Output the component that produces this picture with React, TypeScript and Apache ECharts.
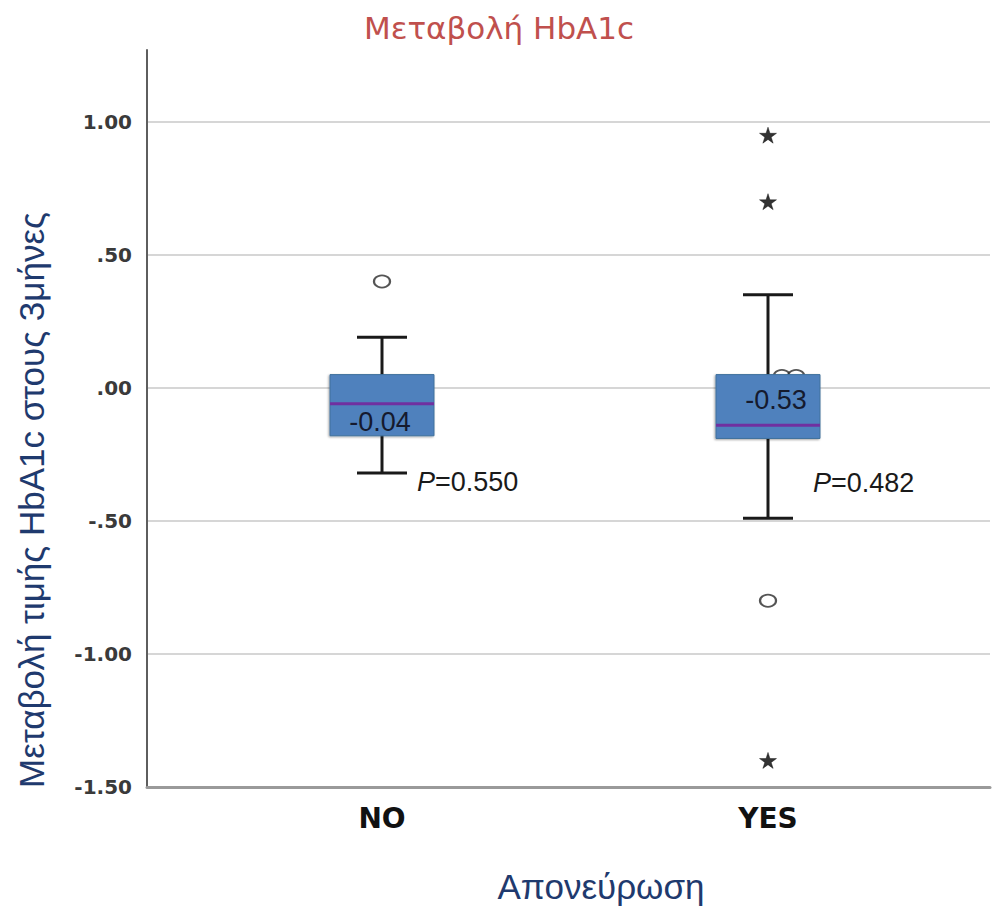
import React, { useEffect, useRef } from 'react';
import * as echarts from 'echarts';

// Groups on the x axis
const groups = ['NO', 'YES'];
// Box statistics per group: [lower whisker, Q1, median, Q3, upper whisker]
const boxStats = [
  [-0.32, -0.18, -0.06, 0.05, 0.19],
  [-0.49, -0.19, -0.14, 0.05, 0.35],
];
// Outliers as [group position, value]
const circleOutliers = [
  [0, 0.4],
  [1, -0.8],
  [1.036, 0.045],
  [1.073, 0.045],
];
const starOutliers = [
  [1, 0.95],
  [1, 0.7],
  [1, -1.4],
];
// Horizontal reference lines
const gridValues = [1.0, 0.5, 0, -0.5, -1.0];
// Annotations
const boxLabels = ['-0.04', '-0.53'];
const pValues = ['0.550', '0.482'];

const Y_MIN = -1.5;
const Y_MAX = 1.27;

const STAR =
  'path://M50,0 L61,35 L98,35 L68,57 L79,91 L50,70 L21,91 L32,57 L2,35 L39,35 Z';

function fmtTick(v: number): string {
  if (Math.abs(v * 2 - Math.round(v * 2)) > 1e-6) return '';
  return v.toFixed(2).replace(/^(-?)0\./, '$1.');
}

export default function App() {
  const ref = useRef<HTMLDivElement>(null);

  useEffect(() => {
    if (!ref.current) return;
    const chart = echarts.init(ref.current, undefined, { renderer: 'svg' });

    const boxData = boxStats.map((s, i) => [i, ...s]);

    const option: any = {
      animation: false,
      backgroundColor: '#ffffff',
      title: {
        text: 'Μεταβολή HbA1c',
        left: 'center',
        top: 7,
        textStyle: {
          color: '#c0504d',
          fontSize: 31,
          fontWeight: 'normal',
          fontFamily: 'DejaVu Sans',
        },
      },
      grid: [
        { left: 147, right: 8, top: 50, bottom: 128 },
        { left: 189, right: 37, top: 50, bottom: 128 },
      ],
      xAxis: [
        {
          gridIndex: 0,
          type: 'value',
          min: 0,
          max: 1,
          axisLine: { show: true, onZero: false, lineStyle: { color: '#9a9a9a', width: 3 } },
          axisTick: { show: false },
          axisLabel: { show: false },
          splitLine: { show: false },
        },
        {
          gridIndex: 1,
          type: 'category',
          data: groups,
          axisLine: { show: false },
          axisTick: { show: false },
          axisLabel: {
            margin: 17,
            color: '#111111',
            fontSize: 28,
            fontWeight: 'bold',
            fontFamily: 'DejaVu Sans',
          },
          name: 'Απονεύρωση',
          nameLocation: 'middle',
          nameGap: 82,
          nameTextStyle: {
            color: '#1f3a6e',
            fontSize: 35,
            fontFamily: 'Liberation Sans',
            padding: [0, 0, 0, 52],
          },
        },
        {
          gridIndex: 1,
          type: 'value',
          min: -0.5,
          max: 1.5,
          show: false,
        },
      ],
      yAxis: [
        {
          gridIndex: 0,
          type: 'value',
          min: Y_MIN,
          max: Y_MAX,
          interval: 0.5,
          axisLine: { show: true, onZero: false, lineStyle: { color: '#5e5e5e', width: 2 } },
          axisTick: { show: false },
          splitLine: { show: false },
          axisLabel: {
            showMaxLabel: false,
            margin: 15,
            color: '#3a3a3a',
            fontSize: 20,
            fontWeight: 'bold',
            fontFamily: 'DejaVu Sans',
            formatter: fmtTick,
          },
          name: 'Μεταβολή τιμής HbA1c στους 3μήνες',
          nameLocation: 'middle',
          nameRotate: 90,
          nameGap: 98,
          nameTextStyle: {
            color: '#1f3a6e',
            fontSize: 35,
            fontFamily: 'Liberation Sans',
            padding: [0, 163, 0, 0],
          },
        },
        {
          gridIndex: 1,
          type: 'value',
          min: Y_MIN,
          max: Y_MAX,
          show: false,
        },
      ],
      series: [
        {
          name: 'grid',
          type: 'line',
          xAxisIndex: 0,
          yAxisIndex: 0,
          data: [],
          z: 0,
          silent: true,
          markLine: {
            silent: true,
            z: 0,
            symbol: 'none',
            label: { show: false },
            lineStyle: { color: '#d6d6d6', width: 2, type: 'solid' },
            data: gridValues.map((v) => ({ yAxis: v })),
          },
        },
        {
          name: 'outliers',
          type: 'scatter',
          xAxisIndex: 2,
          yAxisIndex: 1,
          z: 4,
          symbol: 'emptyCircle',
          symbolSize: [16, 12],
          itemStyle: { color: '#2a2a2a', borderColor: '#2a2a2a', borderWidth: 2.2 },
          data: circleOutliers,
        },
        {
          name: 'extremes',
          type: 'scatter',
          xAxisIndex: 2,
          yAxisIndex: 1,
          z: 6,
          symbol: STAR,
          symbolSize: [17, 16],
          itemStyle: { color: '#000000', borderColor: '#000000', borderWidth: 0.5 },
          data: starOutliers,
        },
        {
          name: 'box',
          type: 'custom',
          xAxisIndex: 1,
          yAxisIndex: 1,
          z: 5,
          encode: { x: 0, y: [1, 2, 3, 4, 5] },
          data: boxData,
          renderItem: (params: any, api: any) => {
            const idx = api.value(0);
            const lo = api.coord([idx, api.value(1)]);
            const q1 = api.coord([idx, api.value(2)]);
            const med = api.coord([idx, api.value(3)]);
            const q3 = api.coord([idx, api.value(4)]);
            const hi = api.coord([idx, api.value(5)]);
            const cx = lo[0];
            const halfBox = 52;
            const halfCap = 25;
            const stroke = { stroke: '#1a1a1a', lineWidth: 3 };
            return {
              type: 'group',
              children: [
                { type: 'line', shape: { x1: cx, y1: hi[1], x2: cx, y2: lo[1] }, style: stroke },
                { type: 'line', shape: { x1: cx - halfCap, y1: hi[1], x2: cx + halfCap, y2: hi[1] }, style: stroke },
                { type: 'line', shape: { x1: cx - halfCap, y1: lo[1], x2: cx + halfCap, y2: lo[1] }, style: stroke },
                {
                  type: 'rect',
                  shape: { x: cx - halfBox, y: q3[1], width: halfBox * 2, height: q1[1] - q3[1] },
                  style: {
                    fill: '#4f81bd',
                    stroke: '#41719c',
                    lineWidth: 1,
                    shadowColor: 'rgba(0,0,0,0.35)',
                    shadowBlur: 2,
                    shadowOffsetX: -1,
                    shadowOffsetY: 1,
                  },
                },
                {
                  type: 'line',
                  shape: { x1: cx - halfBox, y1: med[1], x2: cx + halfBox, y2: med[1] },
                  style: { stroke: '#7030a0', lineWidth: 3 },
                },
              ],
            };
          },
        },
      ],
      graphic: [
        {
          type: 'text',
          x: 380,
          y: 422,
          z: 10,
          style: {
            text: boxLabels[0],
            fill: '#151a2e',
            font: '27px "Liberation Sans"',
            align: 'center',
            verticalAlign: 'middle',
          },
        },
        {
          type: 'text',
          x: 776,
          y: 400,
          z: 10,
          style: {
            text: boxLabels[1],
            fill: '#151a2e',
            font: '27px "Liberation Sans"',
            align: 'center',
            verticalAlign: 'middle',
          },
        },
        {
          type: 'text',
          x: 417,
          y: 482,
          z: 10,
          style: {
            text: '{i|P}=' + pValues[0],
            fill: '#1a1a1a',
            font: '27px "Liberation Sans"',
            align: 'left',
            verticalAlign: 'middle',
            rich: { i: { fontStyle: 'italic', fontSize: 27, fontFamily: 'Liberation Sans', fill: '#1a1a1a' } },
          },
        },
        {
          type: 'text',
          x: 813,
          y: 483,
          z: 10,
          style: {
            text: '{i|P}=' + pValues[1],
            fill: '#1a1a1a',
            font: '27px "Liberation Sans"',
            align: 'left',
            verticalAlign: 'middle',
            rich: { i: { fontStyle: 'italic', fontSize: 27, fontFamily: 'Liberation Sans', fill: '#1a1a1a' } },
          },
        },
      ],
    };

    chart.setOption(option);
    return () => chart.dispose();
  }, []);

  return (
    <div
      ref={ref}
      style={{ position: 'absolute', left: 0, top: 0, width: 998, height: 915 }}
    />
  );
}
